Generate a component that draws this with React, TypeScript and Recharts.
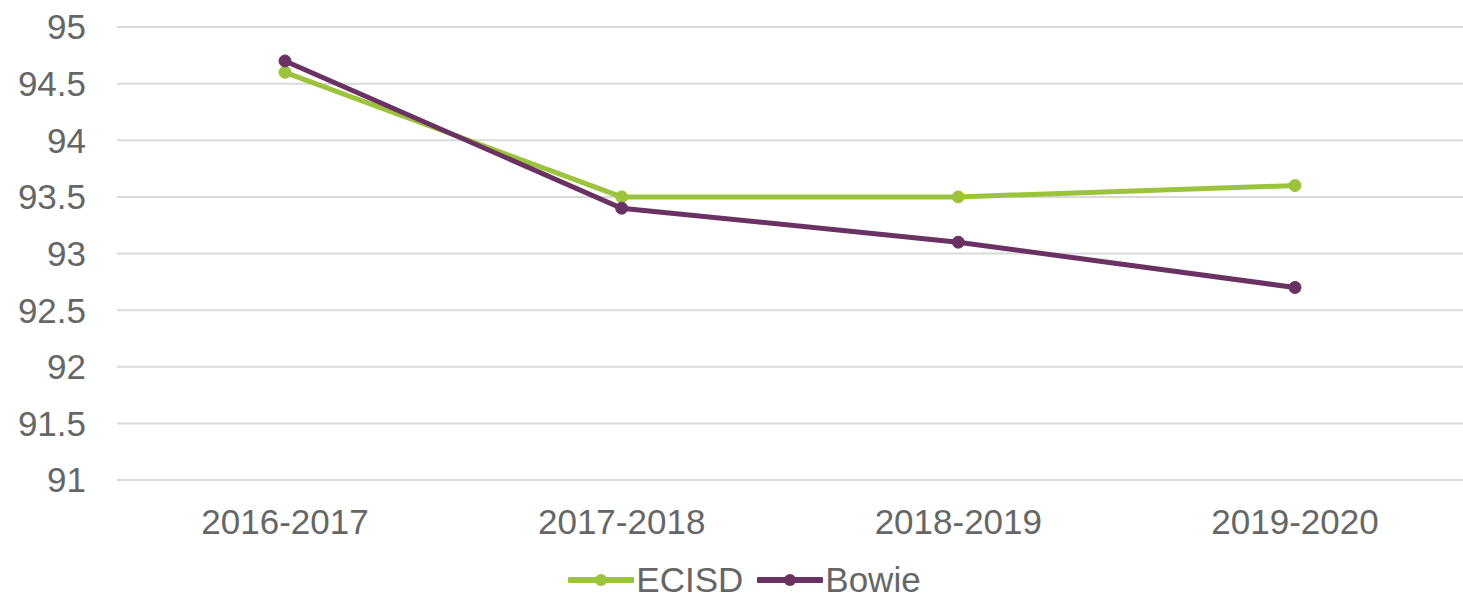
import React from "react";
import {
  LineChart,
  Line,
  XAxis,
  YAxis,
  CartesianGrid,
  Legend,
} from "recharts";

// school years on the x axis
const years = ["2016-2017", "2017-2018", "2018-2019", "2019-2020"];
const ecisd = [94.6, 93.5, 93.5, 93.6];
const bowie = [94.7, 93.4, 93.1, 92.7];
const yTicks = [91, 91.5, 92, 92.5, 93, 93.5, 94, 94.5, 95];

const GREEN = "#9bc43c";
const PURPLE = "#6a3263";
const TEXT = "#666666";
const FONT = "'Liberation Sans', Arial, sans-serif";

const data = years.map((year, i) => ({
  year,
  ECISD: ecisd[i],
  Bowie: bowie[i],
}));

const seriesList = [
  { key: "ECISD", color: GREEN },
  { key: "Bowie", color: PURPLE },
];

// legend: short line with a dot in the middle, then the name
function LegendContent() {
  return (
    <div
      style={{
        display: "flex",
        justifyContent: "center",
        alignItems: "center",
        paddingLeft: 40,
        paddingTop: 20,
        fontFamily: FONT,
        fontSize: 35,
        color: TEXT,
      }}
    >
      {seriesList.map((s) => (
        <div
          key={s.key}
          style={{ display: "flex", alignItems: "center", marginRight: 14 }}
        >
          <svg width={66} height={20} style={{ marginRight: 2 }}>
            <line x1={2} y1={10} x2={64} y2={10} stroke={s.color} strokeWidth={6} strokeLinecap="round" />
            <circle cx={33} cy={10} r={6} fill={s.color} />
          </svg>
          <span>{s.key}</span>
        </div>
      ))}
    </div>
  );
}

export default function App() {
  return (
    <div style={{ position: "absolute", left: 0, top: 0, background: "#fff" }}>
      <LineChart
        width={1463}
        height={603}
        data={data}
        margin={{ top: 27, right: 0, left: 0, bottom: 0 }}
      >
        <CartesianGrid vertical={false} stroke="#d9d9d9" strokeWidth={2} />
        <XAxis
          dataKey="year"
          axisLine={false}
          tickLine={false}
          tickMargin={23}
          height={60}
          padding={{ left: 168, right: 168 }}
          tick={{ fill: TEXT, fontSize: 35, fontFamily: FONT }}
        />
        <YAxis
          domain={[91, 95]}
          ticks={yTicks}
          interval={0}
          axisLine={false}
          tickLine={false}
          tickMargin={25}
          width={117}
          tick={{ fill: TEXT, fontSize: 35, fontFamily: FONT }}
        />
        <Legend verticalAlign="bottom" height={63} content={<LegendContent />} />
        {seriesList.map((s) => (
          <Line
            key={s.key}
            dataKey={s.key}
            stroke={s.color}
            strokeWidth={5}
            dot={{ r: 6, fill: s.color, stroke: s.color, strokeWidth: 1 }}
            isAnimationActive={false}
          />
        ))}
      </LineChart>
    </div>
  );
}
